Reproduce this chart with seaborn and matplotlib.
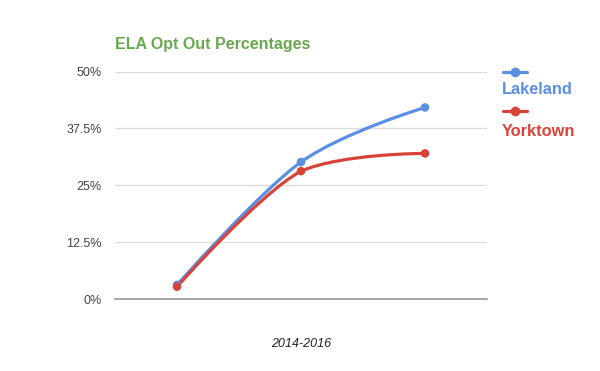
import numpy as np
import pandas as pd
import seaborn as sns
import matplotlib.pyplot as plt
from matplotlib.path import Path
from matplotlib.patches import PathPatch
from matplotlib.lines import Line2D
from matplotlib.ticker import FixedLocator, FixedFormatter

# data (percent)
steps = [0, 1, 2]
lakeland = [3.1, 30.1, 42.1]
yorktown = [2.7, 28.1, 32.0]
series_names = ["Lakeland", "Yorktown"]
series_colors = ["#5b8fe3", "#d9443a"]
y_ticks = [0, 12.5, 25, 37.5, 50]
y_labels = ["0%", "12.5%", "25%", "37.5%", "50%"]

df = pd.DataFrame({
    "step": steps * 2,
    "pct": lakeland + yorktown,
    "school": ["Lakeland"] * 3 + ["Yorktown"] * 3,
})

sns.set_theme(style="white")
plt.rcParams["font.family"] = ["Liberation Sans", "DejaVu Sans"]

fig = plt.figure(figsize=(6, 3.71), dpi=100)
ax = fig.add_axes([115 / 600, 1 - 299 / 371, 372 / 600, 227.5 / 371])


def smooth_path(xs, ys):
    # bezier through the points, handles (p[i+1]-p[i-1])/6, flat handles at the ends,
    # handles clipped so a segment never overshoots its end points
    p = np.column_stack([np.asarray(xs, float), np.asarray(ys, float)])
    n = len(p)
    verts = [tuple(p[0])]
    codes = [Path.MOVETO]
    for i in range(n - 1):
        a, b = p[i], p[i + 1]
        c1 = a if i == 0 else a + (p[i + 1] - p[i - 1]) / 6
        c2 = b if i == n - 2 else b - (p[i + 2] - p[i]) / 6
        lo, hi = min(a[1], b[1]), max(a[1], b[1])
        c1 = (c1[0], np.clip(c1[1], lo, hi))
        c2 = (c2[0], np.clip(c2[1], lo, hi))
        verts += [tuple(c1), tuple(c2), tuple(b)]
        codes += [Path.CURVE4] * 3
    return Path(verts, codes)


for name, color in zip(series_names, series_colors):
    sub = df[df.school == name]
    ax.add_patch(PathPatch(smooth_path(sub.step, sub.pct), facecolor="none",
                           edgecolor=color, lw=2.3, capstyle="round", zorder=3))
    sns.scatterplot(data=sub, x="step", y="pct", color=color, s=38,
                    edgecolor="none", ax=ax, zorder=4, legend=False)

ax.set_xlim(-0.5, 2.5)
ax.set_ylim(0, 50)
ax.yaxis.set_major_locator(FixedLocator(y_ticks))
ax.yaxis.set_major_formatter(FixedFormatter(y_labels))
ax.set_xticks([])
ax.set_xlabel("")
ax.set_ylabel("")
ax.tick_params(axis="y", length=0, pad=9.5, labelsize=9, labelcolor="#444444")
ax.grid(axis="y", color="#dddddd", lw=1)
for s in ["top", "right", "left"]:
    ax.spines[s].set_visible(False)
ax.spines["bottom"].set_color("#999999")
ax.spines["bottom"].set_linewidth(1.2)
ax.set_facecolor("white")

fig.text(115 / 600, 1 - 44 / 371, "ELA Opt Out Percentages", color="#6aa84f",
         fontsize=11.5, fontweight="bold", va="center", ha="left")
fig.text(301 / 600, 1 - 344 / 371, "2014-2016", fontstyle="italic",
         fontsize=9, color="#222222", ha="center", va="center")

# legend: sample line on one row, name below it
legend_rows = [(72, 90), (111, 131)]
for (ly, ty), name, color in zip(legend_rows, series_names, series_colors):
    yf = 1 - ly / 371
    fig.add_artist(Line2D([503 / 600, 527 / 600], [yf, yf], color=color, lw=2.3,
                          transform=fig.transFigure))
    fig.add_artist(Line2D([515 / 600], [yf], color=color, marker="o", ms=7,
                          mec="none", transform=fig.transFigure))
    fig.text(502 / 600, 1 - ty / 371, name, color=color, fontsize=11.8,
             fontweight="bold", va="center", ha="left")

fig.savefig("out.png", dpi=100, facecolor="white")
